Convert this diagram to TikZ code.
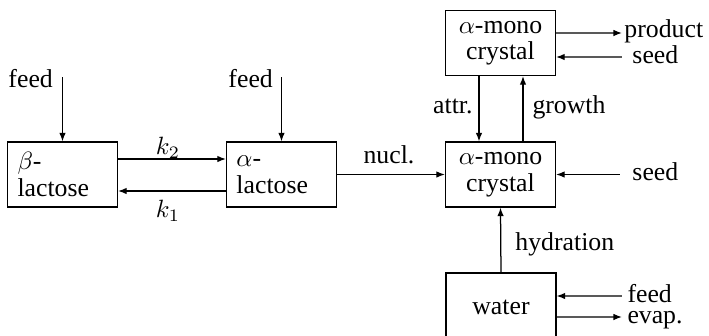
\documentclass[tikz,border=0pt]{standalone}
\usepackage{fontspec}
\setmainfont{Liberation Serif}
\usetikzlibrary{arrows.meta}
\begin{document}
\begin{tikzpicture}[x=0.4pt,y=-0.4pt,
  every node/.style={font=\fontsize{10.3}{10.6}\selectfont},
  blk/.style={draw,line width=0.5pt,minimum width=44pt,minimum height=26pt,inner sep=0pt},
  lbl/.style={inner sep=0pt},
  arr/.style={line width=0.5pt,-{Latex[length=3.4pt,width=2.6pt]}}]
\useasboundingbox (0,0) rectangle (709,335);
% boxes
\node[blk,align=left,text width=36pt] (beta) at (62.5,174.5) {$\beta$-\\lactose};
\node[blk,align=left,text width=36pt] (alpha) at (281.5,174.5) {$\alpha$-\\lactose};
\node[blk,align=center] (top) at (500.5,43) {$\alpha$-mono\\crystal};
\node[blk,align=center] (mid) at (500.5,174.5) {$\alpha$-mono\\crystal};
\node[blk,minimum height=27.2pt] (water) at (501,307) {water};
% free ends
\coordinate (f1) at (62.5,77);
\coordinate (f2) at (281.5,77);
\coordinate (sm) at (620,174.5);
\coordinate (pr) at (622,33);
\coordinate (st) at (622,57);
\coordinate (wf) at (622,296);
\coordinate (ev) at (622,317);
% connectors
\draw[arr] (f1) -- (beta.north);
\draw[arr] (f2) -- (alpha.north);
\draw[arr] ([yshift=6.2pt]beta.east) -- ([yshift=6.2pt]alpha.west);
\draw[arr] ([yshift=-6.6pt]alpha.west) -- ([yshift=-6.6pt]beta.east);
\draw[arr] (alpha.east) -- (mid.west);
\draw[arr] (sm) -- (mid.east);
\draw[arr] ([xshift=-8.6pt]top.south) -- ([xshift=-8.6pt]mid.north);
\draw[arr] ([xshift=9pt]mid.north) -- ([xshift=9pt]top.south);
\draw[arr] ([yshift=4pt]top.east) -- (pr);
\draw[arr] (st) -- ([yshift=-5.6pt]top.east);
\draw[arr] (water.north) -- (mid.south);
\draw[arr] (wf) -- ([yshift=4.4pt]water.east);
\draw[arr] ([yshift=-4pt]water.east) -- (ev);
% labels
\node[lbl,anchor=base west] (lf1) at (8,87) {feed};
\node[lbl,anchor=base west] (lf2) at (228,87) {feed};
\node[lbl] (lk2) at (168,148) {$k_2$};
\node[lbl] (lk1) at (168,211) {$k_1$};
\node[lbl,anchor=base] (lnu) at (389,163) {nucl.};
\node[lbl,anchor=base east] (lat) at (473,113) {attr.};
\node[lbl,anchor=base west] (lgr) at (532,113) {growth};
\node[lbl,anchor=base west] (lpr) at (624,37) {product};
\node[lbl,anchor=base west] (lst) at (632,63) {seed};
\node[lbl,anchor=base west] (lsm) at (632,180) {seed};
\node[lbl,anchor=base west] (lhy) at (515,250) {hydration};
\node[lbl,anchor=base west] (lwf) at (627,302) {feed};
\node[lbl,anchor=base west] (lev) at (627,323) {evap.};
\end{tikzpicture}
\end{document}
